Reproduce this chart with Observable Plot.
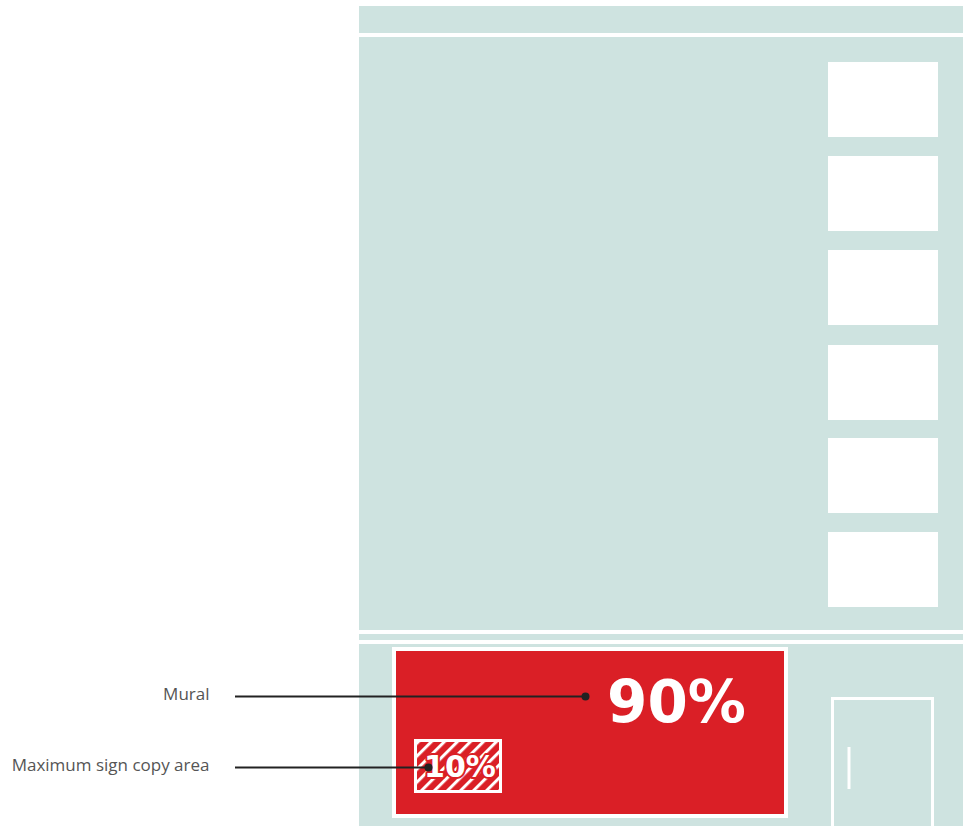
<!DOCTYPE html>
<html><head><meta charset="utf-8">
<script src="https://cdn.jsdelivr.net/npm/d3@7"></script>
<script src="https://cdn.jsdelivr.net/npm/@observablehq/plot@0.6"></script>
<style>body{margin:0;background:#fff} #chart svg{display:block}</style>
</head><body><div id="chart"></div>
<script>
// Facade geometry (diagram units = pixels of the reference drawing)
const facadeBands = [
  {part: "cornice", x1: 359, x2: 963, y1: 6, y2: 33},
  {part: "upper storeys", x1: 359, x2: 963, y1: 37, y2: 630},
  {part: "string course", x1: 359, x2: 963, y1: 634, y2: 640},
  {part: "ground floor", x1: 359, x2: 963, y1: 644, y2: 826}
];
const windowTops = [62, 156, 250, 345, 438, 532];
const windowSpan = {x1: 828, x2: 938, h: 75};
const mural = {label: "Mural", value: "90%", x1: 394, x2: 786, y1: 649, y2: 816, textX: 676, textY: 703, dotX: 585, dotY: 696};
const sign = {label: "Maximum sign copy area", value: "10%", x1: 415.5, x2: 500.5, y1: 740.5, y2: 791.5, textX: 459.5, textY: 767, dotX: 428, dotY: 767};
const door = {x1: 832.5, x2: 932.5, y1: 698.5, y2: 832};
const doorHandle = {x: 848.5, y1: 747, y2: 789};
const labelX = 209, leaderStart = 235;
const labelYs = [694, 765];

const windows = windowTops.map(t => ({x1: windowSpan.x1, x2: windowSpan.x2, y1: t, y2: t + windowSpan.h}));
const callouts = [mural, sign].map((d, i) => ({...d, labelY: labelYs[i]}));

const TEAL = "#cee3e0", RED = "#da1f26";

const svg = Plot.plot({
  width: 965, height: 829, margin: 0,
  x: {domain: [0, 965], range: [0, 965], axis: null},
  y: {domain: [0, 829], range: [0, 829], axis: null},
  marks: [
    Plot.rect(facadeBands, {x1: "x1", x2: "x2", y1: "y1", y2: "y2", fill: TEAL}),
    Plot.rect(windows, {x1: "x1", x2: "x2", y1: "y1", y2: "y2", fill: "white"}),
    Plot.rect([door], {x1: "x1", x2: "x2", y1: "y1", y2: "y2", fill: "none", stroke: "white", strokeWidth: 3}),
    Plot.ruleX([doorHandle], {x: "x", y1: "y1", y2: "y2", stroke: "white", strokeWidth: 3}),
    Plot.rect([mural], {x1: "x1", x2: "x2", y1: "y1", y2: "y2", fill: RED, stroke: "white", strokeWidth: 4}),
    Plot.rect([sign], {x1: "x1", x2: "x2", y1: "y1", y2: "y2", fill: "url(#hatch)", stroke: "white", strokeWidth: 3}),
    Plot.text([mural], {x: "textX", y: "textY", text: "value", fill: "white", fontSize: 58, fontWeight: "bold", fontFamily: "DejaVu Sans", textAnchor: "middle", lineAnchor: "middle"}),
    Plot.text([sign], {x: "textX", y: "textY", text: "value", fill: "white", stroke: RED, strokeWidth: 4, fontSize: 30, fontWeight: "bold", fontFamily: "DejaVu Sans", textAnchor: "middle", lineAnchor: "middle"}),
    Plot.ruleY(callouts, {y: "dotY", x1: leaderStart, x2: "dotX", stroke: "#222", strokeWidth: 2}),
    Plot.dot(callouts, {x: "dotX", y: "dotY", r: 4, fill: "#222"}),
    Plot.text(callouts, {x: labelX, y: "labelY", text: "label", textAnchor: "end", lineAnchor: "middle", fill: "#555", fontSize: 17, fontFamily: "Open Sans"})
  ]
});

const defs = d3.select(svg).insert("defs", ":first-child");
defs.append("pattern")
  .attr("id", "hatch")
  .attr("patternUnits", "userSpaceOnUse")
  .attr("width", 9.2).attr("height", 9.2)
  .attr("patternTransform", "rotate(45)")
  .append("rect").attr("width", 3).attr("height", 9.2).attr("fill", "white");

document.getElementById("chart").appendChild(svg);
</script>
</body></html>
